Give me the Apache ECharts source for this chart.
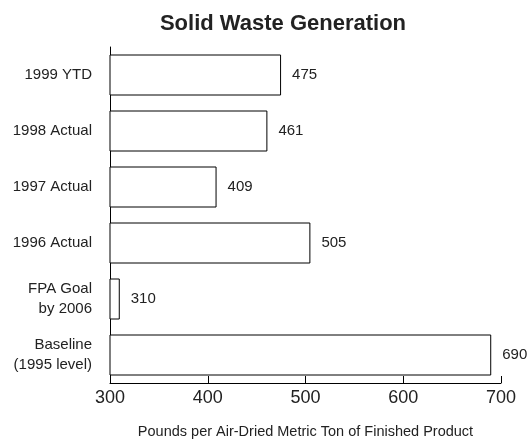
<!DOCTYPE html>
<html>
<head>
<meta charset="utf-8">
<script src="https://cdn.jsdelivr.net/npm/echarts@6/dist/echarts.min.js"></script>
<style>
  html, body { margin: 0; padding: 0; background: #fff; }
  #chart { width: 529px; height: 440px; }
</style>
</head>
<body>
<div id="chart"></div>
<script>
// 数据（从下往上）
var categories = ['Baseline\n(1995 level)', 'FPA Goal\nby 2006', '1996 Actual', '1997 Actual', '1998 Actual', '1999 YTD'];
var values = [690, 310, 505, 409, 461, 475];
var xTicks = [300, 400, 500, 600, 700];

var chart = echarts.init(document.getElementById('chart'));
var option = {
    backgroundColor: '#fff',
    textStyle: { fontFamily: 'Liberation Sans, Arial, sans-serif' },
    title: {
        text: 'Solid Waste Generation',
        left: 278,
        top: 8,
        textAlign: 'center',
        textStyle: {
            color: '#222',
            fontSize: 22,
            fontWeight: 'bold',
            fontFamily: 'Liberation Sans, Arial, sans-serif'
        }
    },
    grid: { left: 110, right: 28, top: 47, bottom: 57, outerBoundsMode: 'none' },
    xAxis: {
        type: 'value',
        min: xTicks[0],
        max: xTicks[xTicks.length - 1],
        interval: 100,
        name: 'Pounds per Air-Dried Metric Ton of Finished Product',
        nameLocation: 'middle',
        nameGap: 41,
        nameTextStyle: { color: '#222', fontSize: 14.5 },
        axisLine: { show: true, lineStyle: { color: '#000', width: 1 } },
        axisTick: { show: true, inside: true, length: 7, lineStyle: { color: '#000' } },
        axisLabel: { color: '#222', fontSize: 18, margin: 6 },
        splitLine: { show: false }
    },
    yAxis: {
        type: 'category',
        data: categories,
        axisLine: { show: true, lineStyle: { color: '#000', width: 1 } },
        axisTick: { show: false },
        axisLabel: { color: '#222', fontSize: 15, margin: 18, lineHeight: 20, align: 'right' }
    },
    series: [{
        type: 'bar',
        data: values,
        barWidth: 41,
        itemStyle: { color: '#fff', borderColor: '#000', borderWidth: 1 },
        label: {
            show: true,
            position: 'right',
            distance: 11,
            color: '#222',
            fontSize: 15
        },
        silent: true
    }],
    animation: false
};
chart.setOption(option);
</script>
</body>
</html>
